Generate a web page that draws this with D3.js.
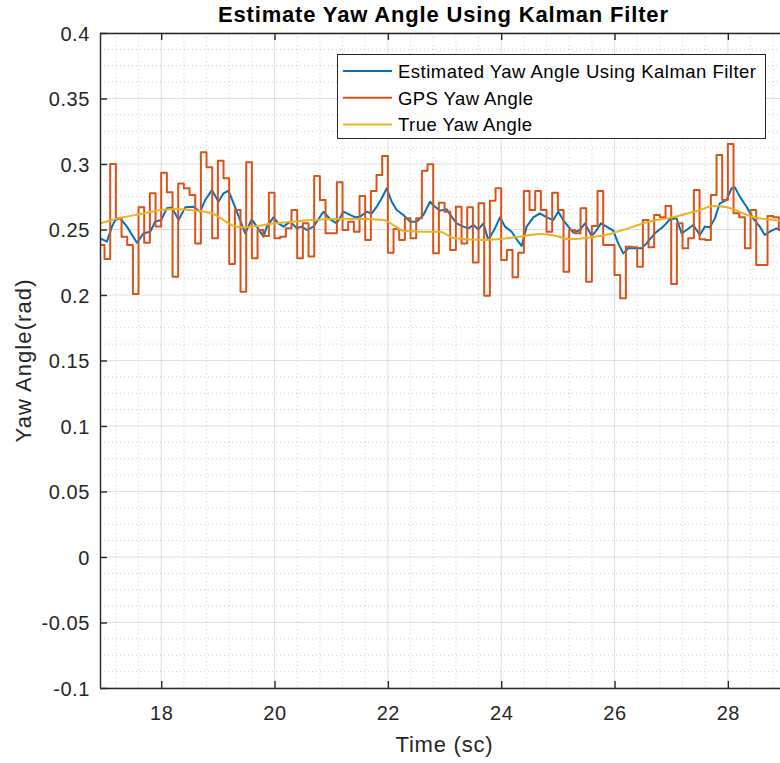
<!DOCTYPE html>
<html><head><meta charset="utf-8">
<script src="https://cdn.jsdelivr.net/npm/d3@7/dist/d3.min.js"></script>
<style>
html,body{margin:0;padding:0;background:#fff;}
text{font-family:"Liberation Sans",Arial,Helvetica,sans-serif;}
</style></head>
<body><svg id="chart" width="780" height="763"></svg>
<script>
// ---------- data ----------
const title = "Estimate Yaw Angle Using Kalman Filter";
const xLabel = "Time (sc)";
const yLabel = "Yaw Angle(rad)";
const seriesNames = ["Estimated Yaw Angle Using Kalman Filter", "GPS Yaw Angle", "True Yaw Angle"];
const xTicks = [18, 20, 22, 24, 26, 28];
const yTicks = [-0.1, -0.05, 0, 0.05, 0.1, 0.15, 0.2, 0.25, 0.3, 0.35, 0.4];
const yTickLabels = ["-0.1", "-0.05", "0", "0.05", "0.1", "0.15", "0.2", "0.25", "0.3", "0.35", "0.4"];

// GPS yaw (10 Hz, held between samples), first sample at t = 16.9 s
const gpsStart = 16.9, gpsStep = 0.1;
const gpsValues = [
 0.2382,0.2275,0.3000,0.2585,0.2445,0.2382,0.2008,0.2669,0.2399,0.2776,
 0.2522,0.2934,0.2784,0.2140,0.2852,0.2814,0.2763,0.2394,0.3089,0.2975,
 0.2433,0.3025,0.2891,0.2237,0.2649,0.2025,0.3013,0.2280,0.2496,0.2450,
 0.2781,0.2433,0.2445,0.2509,0.2649,0.2280,0.2547,0.2293,0.2908,0.2725,
 0.2471,0.2471,0.2860,0.2496,0.2560,0.2483,0.2756,0.2420,0.2794,0.2916,
 0.3061,0.2323,0.2504,0.2420,0.2585,0.2433,0.2585,0.2949,0.2998,0.2318,
 0.2705,0.2636,0.2344,0.2674,0.2394,0.2669,0.2249,0.2700,0.1995,0.2720,
 0.2814,0.2267,0.2344,0.2135,0.2323,0.2794,0.2649,0.2794,0.2649,0.2483,
 0.2781,0.2649,0.2178,0.2496,0.2471,0.2662,0.2102,0.2527,0.2794,0.2382,
 0.2382,0.2153,0.1975,0.2369,0.2364,0.2216,0.2573,0.2364,0.2611,0.2593,
 0.2680,0.2084,0.2547,0.2356,0.2433,0.2802,0.2425,0.2420,0.2763,0.3069,
 0.2725,0.3153,0.2624,0.2593,0.2356,0.2649,0.2229,0.2229,0.2603,0.2593,
 0.2496
];

// Kalman estimate
const kfTime = [16.924,17.042,17.130,17.189,17.277,17.395,17.571,17.689,17.806,17.894,
 18.000,18.100,18.188,18.306,18.424,18.570,18.688,18.776,18.894,19.011,
 19.100,19.188,19.335,19.482,19.599,19.688,19.805,19.864,19.981,20.069,
 20.158,20.275,20.393,20.481,20.569,20.687,20.863,20.981,21.098,21.216,
 21.333,21.422,21.510,21.627,21.716,21.804,21.892,21.980,22.068,22.156,
 22.274,22.392,22.509,22.627,22.744,22.832,22.920,23.038,23.126,23.214,
 23.332,23.420,23.508,23.596,23.685,23.773,23.890,23.979,24.067,24.184,
 24.302,24.361,24.449,24.566,24.684,24.802,24.919,25.007,25.096,25.184,
 25.272,25.390,25.478,25.595,25.684,25.760,25.860,25.977,26.065,26.154,
 26.242,26.330,26.477,26.565,26.712,26.859,26.977,27.094,27.182,27.271,
 27.388,27.506,27.594,27.682,27.770,27.858,27.976,28.064,28.123,28.211,
 28.329,28.446,28.564,28.652,28.740,28.858,28.917];
const kfValues = [0.2433,0.2407,0.2522,0.2572,0.2585,0.2522,0.2399,0.2471,0.2483,0.2560,
 0.2572,0.2662,0.2669,0.2572,0.2669,0.2674,0.2636,0.2725,0.2801,0.2712,
 0.2776,0.2796,0.2636,0.2471,0.2578,0.2522,0.2445,0.2522,0.2593,0.2547,
 0.2522,0.2560,0.2509,0.2522,0.2496,0.2522,0.2636,0.2578,0.2547,0.2636,
 0.2611,0.2593,0.2598,0.2636,0.2623,0.2674,0.2738,0.2814,0.2712,0.2649,
 0.2611,0.2560,0.2560,0.2611,0.2712,0.2674,0.2644,0.2654,0.2598,0.2547,
 0.2522,0.2509,0.2534,0.2501,0.2547,0.2420,0.2509,0.2593,0.2522,0.2483,
 0.2407,0.2374,0.2522,0.2593,0.2623,0.2593,0.2572,0.2636,0.2572,0.2522,
 0.2476,0.2496,0.2547,0.2450,0.2496,0.2547,0.2522,0.2491,0.2394,0.2318,
 0.2356,0.2356,0.2356,0.2394,0.2471,0.2522,0.2578,0.2585,0.2471,0.2496,
 0.2534,0.2458,0.2522,0.2517,0.2585,0.2700,0.2725,0.2814,0.2822,0.2751,
 0.2674,0.2585,0.2522,0.2458,0.2483,0.2509,0.2496];

// True yaw
const trueTime = [16.924,17.33,17.63,18.00,18.28,18.51,18.87,19.10,19.28,19.45,19.69,19.92,
 20.33,20.62,20.91,21.20,21.60,21.92,22.10,22.27,22.60,22.92,
 23.17,23.70,24.25,24.70,24.98,25.20,25.60,25.92,
 26.33,26.62,26.92,27.20,27.50,27.74,27.98,28.20,28.45,28.70,28.92];
const trueValues = [0.2547,0.2593,0.2618,0.2649,0.2657,0.2649,0.2628,0.2572,0.2527,0.2517,0.2527,0.2542,
 0.2560,0.2572,0.2578,0.2583,0.2580,0.2572,0.2534,0.2491,0.2483,0.2483,
 0.2433,0.2420,0.2440,0.2466,0.2450,0.2425,0.2440,0.2466,
 0.2522,0.2560,0.2585,0.2611,0.2649,0.2680,0.2670,0.2636,0.2593,0.2578,0.2568];

const colors = ["#0072BD", "#D95319", "#EDB120"];

// ---------- layout ----------
const W = 780, H = 763;
const plot = {left: 100, top: 33, right: 780, bottom: 688};
const x = d3.scaleLinear().domain([16.92, 28.92]).range([plot.left, plot.right]);
const y = d3.scaleLinear().domain([-0.1, 0.4]).range([plot.bottom, plot.top]);

const svg = d3.select("#chart");
svg.append("rect").attr("width", W).attr("height", H).attr("fill", "#fff");

svg.append("defs").append("clipPath").attr("id", "clip")
  .append("rect").attr("x", plot.left).attr("y", plot.top)
  .attr("width", plot.right - plot.left).attr("height", plot.bottom - plot.top);

const grid = svg.append("g");
// minor grid
const xMinor = d3.range(17.2, 28.95, 0.4).filter(v => Math.abs(v/2 - Math.round(v/2)) > 1e-6);
const yMinor = d3.range(-0.1, 0.4001, 0.0125).filter(v => Math.abs(v/0.05 - Math.round(v/0.05)) > 1e-6);
grid.selectAll(".xmin").data(xMinor).join("line")
  .attr("x1", d => x(d)).attr("x2", d => x(d)).attr("y1", plot.top).attr("y2", plot.bottom)
  .attr("stroke", "#262626").attr("stroke-opacity", 0.28).attr("stroke-width", 0.8)
  .attr("stroke-dasharray", "1,3");
grid.selectAll(".ymin").data(yMinor).join("line")
  .attr("y1", d => y(d)).attr("y2", d => y(d)).attr("x1", plot.left).attr("x2", plot.right)
  .attr("stroke", "#262626").attr("stroke-opacity", 0.28).attr("stroke-width", 0.8)
  .attr("stroke-dasharray", "1,3");
// major grid
grid.selectAll(".xmaj").data(xTicks).join("line")
  .attr("x1", d => x(d)).attr("x2", d => x(d)).attr("y1", plot.top).attr("y2", plot.bottom)
  .attr("stroke", "#262626").attr("stroke-opacity", 0.15).attr("stroke-width", 1);
grid.selectAll(".ymaj").data(yTicks).join("line")
  .attr("y1", d => y(d)).attr("y2", d => y(d)).attr("x1", plot.left).attr("x2", plot.right)
  .attr("stroke", "#262626").attr("stroke-opacity", 0.15).attr("stroke-width", 1);

// series
const g = svg.append("g").attr("clip-path", "url(#clip)");
const kfData = kfTime.map((t, i) => [t, kfValues[i]]);
const gpsData = gpsValues.map((v, i) => [gpsStart + i * gpsStep, v]);
gpsData.push([gpsStart + gpsValues.length * gpsStep, gpsValues[gpsValues.length - 1]]);
const trueData = trueTime.map((t, i) => [t, trueValues[i]]);

g.append("path").datum(kfData)
  .attr("d", d3.line().x(d => x(d[0])).y(d => y(d[1])))
  .attr("fill", "none").attr("stroke", colors[0]).attr("stroke-width", 2).attr("stroke-linejoin", "round");
g.append("path").datum(gpsData)
  .attr("d", d3.line().curve(d3.curveStepAfter).x(d => x(d[0])).y(d => y(d[1])))
  .attr("fill", "none").attr("stroke", colors[1]).attr("stroke-width", 2).attr("stroke-linejoin", "round");
g.append("path").datum(trueData)
  .attr("d", d3.line().curve(d3.curveMonotoneX).x(d => x(d[0])).y(d => y(d[1])))
  .attr("fill", "none").attr("stroke", colors[2]).attr("stroke-width", 2);

// axes
const axisColor = "#262626";
const xAxis = svg.append("g").attr("transform", `translate(0,${plot.bottom})`)
  .call(d3.axisBottom(x).tickValues(xTicks).tickSize(-7).tickPadding(17).tickFormat(d3.format("d")));
const xAxisTop = svg.append("g").attr("transform", `translate(0,${plot.top})`)
  .call(d3.axisTop(x).tickValues(xTicks).tickSize(-7).tickFormat(""));
const yAxis = svg.append("g").attr("transform", `translate(${plot.left},0)`)
  .call(d3.axisLeft(y).tickValues(yTicks).tickSize(-7).tickPadding(17).tickFormat((d, i) => yTickLabels[i]));
[xAxis, xAxisTop, yAxis].forEach(a => {
  a.select(".domain").attr("stroke", axisColor).attr("stroke-width", 1.4);
  a.selectAll(".tick line").attr("stroke", axisColor).attr("stroke-width", 1.4);
  a.selectAll(".tick text").attr("fill", axisColor).attr("font-size", 20)
    .attr("letter-spacing", 0.6)
    .attr("font-family", "'Liberation Sans', Arial, sans-serif");
});
xAxis.selectAll(".tick text").attr("dy", null).attr("y", 32);
yAxis.selectAll(".tick text").attr("x", -10).attr("dy", "0.36em");
xAxis.select(".domain").attr("d", `M${plot.left},0.5H${plot.right}`);
xAxisTop.select(".domain").attr("d", `M${plot.left},0.5H${plot.right}`);
yAxis.select(".domain").attr("d", `M0.5,${plot.top}V${plot.bottom}`);

// title & labels
svg.append("text").attr("x", 443).attr("y", 21.5).attr("text-anchor", "middle")
  .attr("font-size", 22).attr("font-weight", "bold").attr("fill", "#000")
  .attr("textLength", 450).attr("lengthAdjust", "spacing").text(title);
svg.append("text").attr("x", 444).attr("y", 752).attr("text-anchor", "middle")
  .attr("font-size", 22).attr("fill", axisColor)
  .attr("textLength", 97).attr("lengthAdjust", "spacing").text(xLabel);
svg.append("text").attr("transform", `translate(31,361) rotate(-90)`).attr("text-anchor", "middle")
  .attr("font-size", 22).attr("fill", axisColor)
  .attr("textLength", 163).attr("lengthAdjust", "spacing").text(yLabel);

// legend
const legendLens = [358, 135, 134];
const lg = svg.append("g");
lg.append("rect").attr("x", 337.5).attr("y", 54.5).attr("width", 428).attr("height", 84)
  .attr("fill", "#fff").attr("stroke", "#262626").attr("stroke-width", 1);
seriesNames.forEach((name, i) => {
  const cy = 71 + i * 26.7;
  lg.append("line").attr("x1", 343).attr("x2", 392).attr("y1", cy).attr("y2", cy)
    .attr("stroke", colors[i]).attr("stroke-width", 2);
  lg.append("text").attr("x", 398).attr("y", cy + 7).attr("font-size", 18.5)
    .attr("fill", "#000").attr("textLength", legendLens[i]).attr("lengthAdjust", "spacing").text(name);
});
</script></body></html>
